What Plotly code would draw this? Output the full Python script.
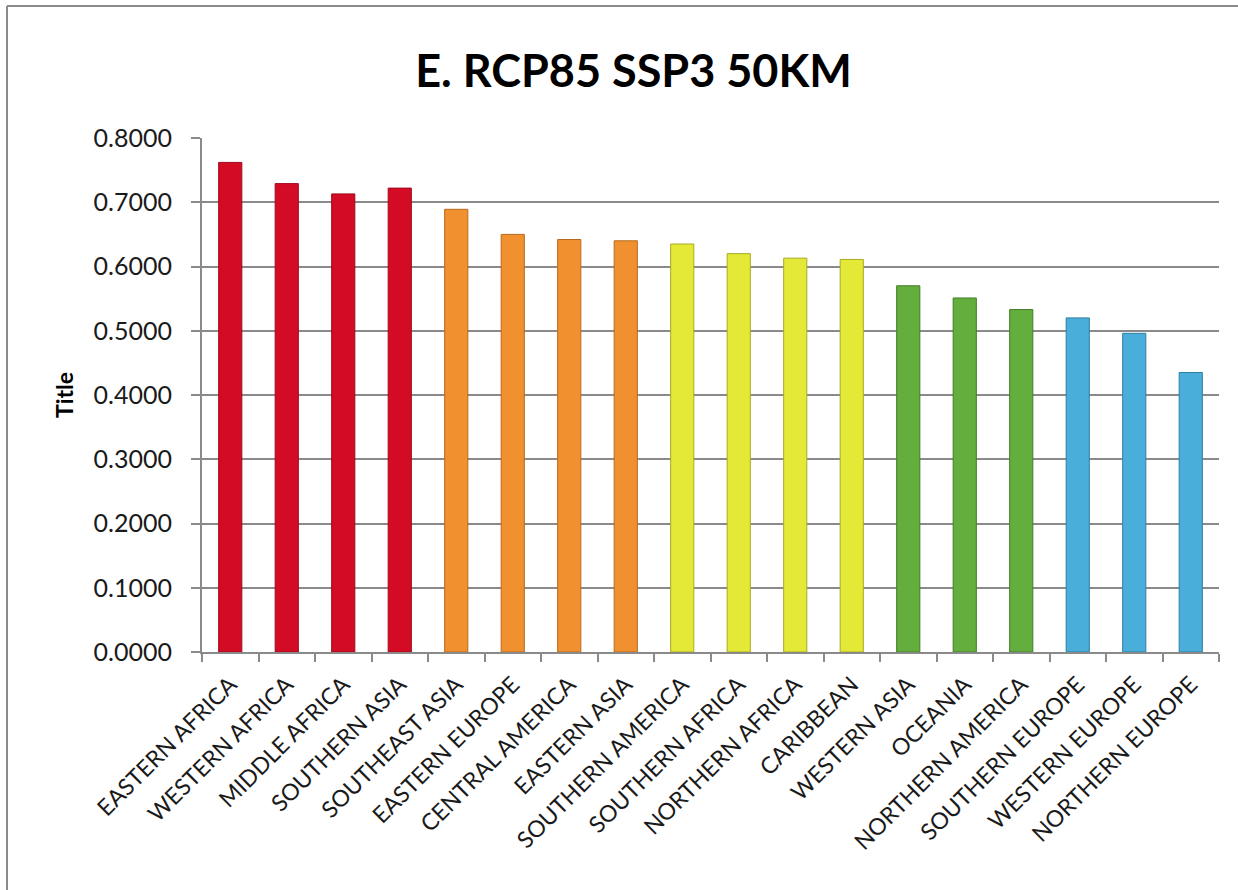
import plotly.graph_objects as go

# Regional values, ordered as plotted
regions = [
    "EASTERN AFRICA", "WESTERN AFRICA", "MIDDLE AFRICA", "SOUTHERN ASIA",
    "SOUTHEAST ASIA", "EASTERN EUROPE", "CENTRAL AMERICA", "EASTERN ASIA",
    "SOUTHERN AMERICA", "SOUTHERN AFRICA", "NORTHERN AFRICA", "CARIBBEAN",
    "WESTERN ASIA", "OCEANIA", "NORTHERN AMERICA", "SOUTHERN EUROPE",
    "WESTERN EUROPE", "NORTHERN EUROPE",
]
values = [
    0.762, 0.729, 0.713, 0.722,
    0.689, 0.650, 0.642, 0.640,
    0.635, 0.620, 0.613, 0.611,
    0.570, 0.551, 0.533, 0.520,
    0.496, 0.435,
]
# Colour group of each region (0 = highest tier ... 4 = lowest tier)
groups = [0, 0, 0, 0, 1, 1, 1, 1, 2, 2, 2, 2, 3, 3, 3, 4, 4, 4]

y_ticks = [0.0, 0.1, 0.2, 0.3, 0.4, 0.5, 0.6, 0.7, 0.8]
y_tick_text = [f"{v:.4f}" for v in y_ticks]

fill_colors = ["#D30B24", "#F0902F", "#E4E836", "#63AE3C", "#49AEDA"]
edge_colors = ["#9E0A1C", "#B8691F", "#A8AB22", "#437D28", "#2F7FA3"]

FONT = "Lato, 'Open Sans', sans-serif"
GRID = "#8A8A8A"

fig = go.Figure(
    go.Bar(
        x=regions,
        y=values,
        marker=dict(
            color=[fill_colors[g] for g in groups],
            line=dict(color=[edge_colors[g] for g in groups], width=1),
        ),
        hovertemplate="%{x}: %{y:.4f}<extra></extra>",
    )
)

W, H = 1238, 890
L, R, T, B = 202, 19, 138, 238

# Outer chart frame: only its left and top edges fall inside the page
px_w = W - L - R
px_h = H - T - B
frame_x = (7 - L) / px_w
frame_y = (H - B - 6) / px_h
frame_line = dict(color="#8C8C8C", width=2)
fig.add_shape(type="line", xref="paper", yref="paper", layer="below",
              x0=frame_x, x1=frame_x, y0=-0.6, y1=frame_y, line=frame_line)
fig.add_shape(type="line", xref="paper", yref="paper", layer="below",
              x0=frame_x, x1=1.1, y0=frame_y, y1=frame_y, line=frame_line)

fig.update_layout(
    width=W, height=H,
    margin=dict(l=L, r=R, t=T, b=B, autoexpand=False),
    paper_bgcolor="white", plot_bgcolor="white",
    showlegend=False,
    bargap=0.59,
    title=dict(
        text="<b>E. RCP85 SSP3 50KM</b>",
        font=dict(family=FONT, size=45, color="#000000"),
        x=633.5 / W, xanchor="center",
        y=1 - 71 / H, yanchor="middle",
    ),
    font=dict(family=FONT, color="#1A1A1A"),
)

fig.update_xaxes(
    type="category",
    tickangle=-45,
    tickson="boundaries",
    ticks="outside", ticklen=8, tickwidth=2, tickcolor=GRID,
    ticklabelstandoff=8,
    showline=True, linecolor=GRID, linewidth=2,
    showgrid=False,
    tickfont=dict(family=FONT, size=23, color="#1A1A1A"),
)

fig.update_yaxes(
    range=[0, 0.8],
    tickvals=y_ticks, ticktext=y_tick_text,
    ticks="outside", ticklen=9, tickwidth=2, tickcolor=GRID,
    ticklabelstandoff=14,
    showline=True, linecolor=GRID, linewidth=2,
    showgrid=True, gridcolor=GRID, gridwidth=2,
    zeroline=False,
    tickfont=dict(family=FONT, size=25, color="#1A1A1A"),
    title=dict(text="<b>Title</b>", font=dict(family=FONT, size=23, color="#000000"), standoff=14),
)

fig.write_html("out.html")
